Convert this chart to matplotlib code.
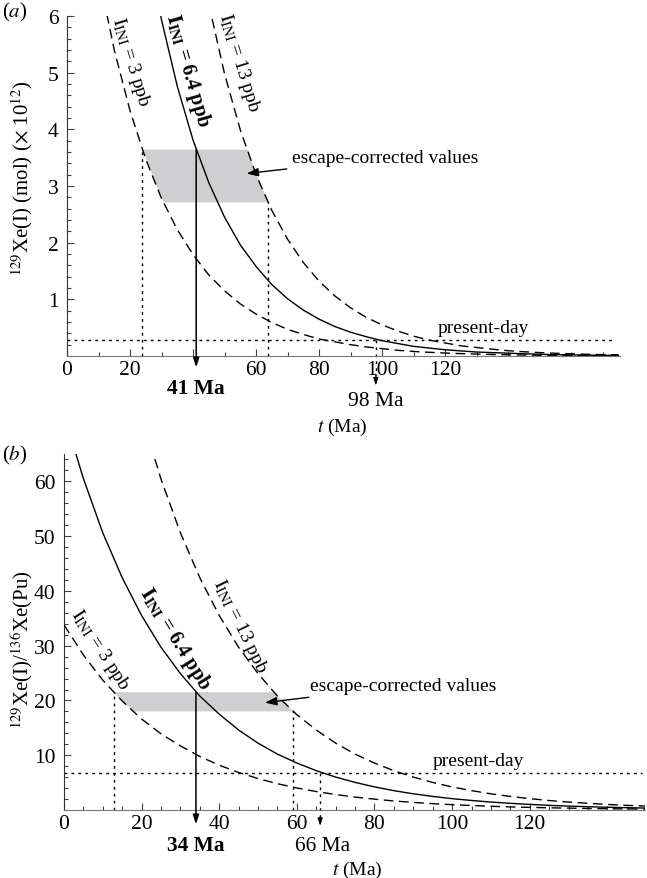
import numpy as np
import matplotlib
matplotlib.use("Agg")
import matplotlib.pyplot as plt
from matplotlib.ticker import MultipleLocator, FixedLocator

plt.rcParams['font.family'] = ['Liberation Serif', 'DejaVu Serif']
plt.rcParams['mathtext.fontset'] = 'stix'

# ---------------- data: panel (a) ----------------
a_t_3 = list(range(10, 180, 5))
a_v_3 = [6.74, 5.40, 4.33, 3.47, 2.78, 2.23, 1.79, 1.43, 1.15, 0.92, 0.74, 0.59,
         0.47, 0.38, 0.30, 0.25, 0.20, 0.16, 0.13, 0.10, 0.08, 0.065, 0.052, 0.042,
         0.034, 0.027, 0.021, 0.017, 0.014, 0.011, 0.009, 0.007, 0.006, 0.005]
a_t_64 = list(range(25, 180, 5))
a_v_64 = [7.40, 5.93, 4.76, 3.81, 3.06, 2.45, 1.96, 1.58, 1.26, 1.01, 0.81, 0.65,
          0.52, 0.42, 0.34, 0.27, 0.22, 0.17, 0.14, 0.11, 0.09, 0.07, 0.06, 0.05,
          0.04, 0.03, 0.024, 0.019, 0.015, 0.012, 0.010]
a_t_13 = list(range(45, 180, 5))
a_v_13 = [6.21, 4.98, 3.99, 3.20, 2.57, 2.06, 1.65, 1.32, 1.06, 0.85, 0.68, 0.55,
          0.44, 0.35, 0.28, 0.23, 0.18, 0.15, 0.12, 0.093, 0.075, 0.060, 0.048,
          0.039, 0.031, 0.025, 0.020]
a_band = [2.72, 3.65]          # escape-corrected values
a_present = 0.29               # present-day
a_age_best = 41
a_age_present = 98

# ---------------- data: panel (b) ----------------
b_t_3 = list(range(0, 155, 5))
b_v_3 = [33.8, 28.3, 23.7, 19.9, 16.6, 13.9, 11.7, 9.77, 8.18, 6.85, 5.74, 4.80,
         4.02, 3.37, 2.82, 2.36, 1.98, 1.65, 1.39, 1.16, 0.97, 0.82, 0.68, 0.57,
         0.48, 0.40, 0.34, 0.28, 0.23, 0.20, 0.17]
b_t_64 = list(range(0, 155, 5))
b_v_64 = [72.2, 60.5, 50.6, 42.4, 35.5, 29.7, 24.9, 20.8, 17.5, 14.6, 12.2, 10.2,
          8.58, 7.18, 6.01, 5.04, 4.22, 3.53, 2.96, 2.48, 2.07, 1.74, 1.45, 1.22,
          1.02, 0.85, 0.71, 0.60, 0.50, 0.42, 0.35]
b_t_13 = list(range(20, 155, 5))
b_v_13 = [72.1, 60.4, 50.6, 42.4, 35.5, 29.7, 24.9, 20.8, 17.4, 14.6, 12.2, 10.2,
          8.57, 7.17, 6.01, 5.03, 4.21, 3.54, 2.95, 2.48, 2.07, 1.73, 1.45, 1.22,
          1.01, 0.85, 0.72]
b_band = [18.1, 21.6]
b_present = 6.76
b_age_best = 34
b_age_present = 66

FS_TICK = 15.5
FS_TXT = 14
FS_LAB = 15

fig = plt.figure(figsize=(6.47, 8.79), dpi=100)
W, H = 647, 879


def add_axes(l, r, b, t):
    return fig.add_axes([l / W, 1 - b / H, (r - l) / W, (b - t) / H])


def inv(y, t, v):
    return float(np.interp(y, v[::-1], t[::-1]))


def style(ax, xmaj, xlabels, xminor, ymaj, yminor):
    for s in ('top', 'right'):
        ax.spines[s].set_visible(False)
    ax.spines['left'].set_color('#333333')
    ax.spines['bottom'].set_color('#777777')
    ax.xaxis.set_major_locator(FixedLocator(xmaj))
    ax.set_xticklabels(xlabels)
    ax.xaxis.set_minor_locator(MultipleLocator(xminor))
    ax.yaxis.set_major_locator(FixedLocator(ymaj))
    ax.yaxis.set_minor_locator(MultipleLocator(yminor))
    ax.tick_params(which='both', direction='in', colors='#444444', labelcolor='black',
                   labelsize=FS_TICK, width=0.8)
    ax.tick_params(which='major', length=5)
    ax.tick_params(which='minor', length=3)
    ax.tick_params(axis='x', pad=3)
    ax.tick_params(axis='y', pad=6)


def draw_panel(ax, c3, c64, c13, band, present, xmax):
    t3, v3 = np.array(c3[0]), np.array(c3[1])
    t64, v64 = np.array(c64[0]), np.array(c64[1])
    t13, v13 = np.array(c13[0]), np.array(c13[1])
    lo, hi = band
    ys = np.linspace(lo, hi, 30)
    xl = [inv(y, t3, v3) for y in ys]
    xr = [inv(y, t13, v13) for y in ys]
    ax.fill_betweenx(ys, xl, xr, color='#cfcfd1', lw=0, zorder=1)
    kw = dict(color='black', lw=1.0, zorder=3)
    ax.plot(t3, v3, dashes=(7, 4), **kw)
    ax.plot(t13, v13, dashes=(7, 4), **kw)
    ax.plot(t64, v64, **kw)
    dot = dict(color='black', lw=1.0, dashes=(2, 3), zorder=2)
    ax.plot([0, xmax], [present, present], **dot)
    x_left = inv(hi, t3, v3)
    x_right = inv(lo, t13, v13)
    ax.plot([x_left, x_left], [0, hi], **dot)
    ax.plot([x_right, x_right], [0, lo], **dot)


# ================= panel (a) =================
ax1 = add_axes(67, 620, 357, 17)
ax1.set_xlim(0, 175.5)
ax1.set_ylim(0, 6)
style(ax1, [0, 20, 40, 60, 80, 100, 120], ['0', '20', '', '60', '80', '100', '120'],
      10, [1, 2, 3, 4, 5, 6], 0.2)
draw_panel(ax1, (a_t_3, a_v_3), (a_t_64, a_v_64), (a_t_13, a_v_13),
           a_band, a_present, 173)

ax1.annotate('', xy=(a_age_best, -0.2), xytext=(a_age_best, a_band[1]),
             arrowprops=dict(arrowstyle='-|>,head_length=0.55,head_width=0.18',
                             color='black', lw=1.1, shrinkA=0, shrinkB=0),
             annotation_clip=False, zorder=4)
ax1.text(a_age_best, -0.56, '41 Ma', ha='center', va='center', fontsize=FS_TICK,
         fontweight='bold', clip_on=False)
ax1.plot([a_age_present, a_age_present], [a_present, -0.35], color='black', lw=1.0,
         dashes=(2, 3), clip_on=False, zorder=2)
ax1.annotate('', xy=(a_age_present, -0.52), xytext=(a_age_present, -0.32),
             arrowprops=dict(arrowstyle='-|>,head_length=0.45,head_width=0.15',
                             color='black', lw=0.8, shrinkA=0, shrinkB=0),
             annotation_clip=False)
ax1.text(a_age_present, -0.79, '98 Ma', ha='center', va='center', fontsize=FS_TICK,
         clip_on=False)
ax1.text(132, 0.5, 'present-day', ha='center', va='center', fontsize=FS_TXT)
ax1.annotate('escape-corrected values', xy=(57, 3.22), xytext=(71.5, 3.5),
             fontsize=FS_TXT, ha='left', va='center',
             arrowprops=dict(arrowstyle='-|>,head_length=0.5,head_width=0.18',
                             color='black', lw=1.0, shrinkA=2, shrinkB=0))
ax1.text(20.2, 5.2, r'$\mathrm{I}_{\mathrm{INI}}$ = 3 ppb', rotation=-73,
         ha='center', va='center', fontsize=FS_TXT, rotation_mode='anchor')
ax1.text(38.3, 5.05, r'$\mathbf{I}_{\mathbf{INI}}$ = 6.4 ppb', rotation=-74,
         ha='center', va='center', fontsize=FS_TXT + 0.5, fontweight='bold',
         rotation_mode='anchor')
ax1.text(54.5, 5.2, r'$\mathrm{I}_{\mathrm{INI}}$ = 13 ppb', rotation=-73,
         ha='center', va='center', fontsize=FS_TXT, rotation_mode='anchor')

fig.text(342 / W, 1 - 427 / H, r'$t$ (Ma)', ha='center', va='center', fontsize=FS_TXT)
fig.text(22 / W, 1 - 178 / H, r'$^{129}$Xe(I) (mol) ($\times$ 10$^{12}$)',
         rotation=90, ha='center', va='center', fontsize=FS_LAB)
fig.text(2 / W, 1 - 12 / H, r'($a$)', ha='left', va='center', fontsize=FS_LAB)

# ================= panel (b) =================
ax2 = add_axes(64, 645, 811, 455)
ax2.set_xlim(0, 149.7)
ax2.set_ylim(0, 65)
style(ax2, [0, 20, 40, 60, 80, 100, 120], ['0', '20', '40', '60', '80', '100', '120'],
      5, [10, 20, 30, 40, 50, 60], 2)
draw_panel(ax2, (b_t_3, b_v_3), (b_t_64, b_v_64), (b_t_13, b_v_13),
           b_band, b_present, 149)

ax2.annotate('', xy=(b_age_best, -2.6), xytext=(b_age_best, b_band[1]),
             arrowprops=dict(arrowstyle='-|>,head_length=0.55,head_width=0.18',
                             color='black', lw=1.1, shrinkA=0, shrinkB=0),
             annotation_clip=False, zorder=4)
ax2.text(b_age_best, -6.4, '34 Ma', ha='center', va='center', fontsize=FS_TICK,
         fontweight='bold', clip_on=False)
ax2.plot([b_age_present, b_age_present], [b_present, -1.3], color='black', lw=1.0,
         dashes=(2, 3), clip_on=False, zorder=2)
ax2.annotate('', xy=(b_age_present, -2.9), xytext=(b_age_present, -1.2),
             arrowprops=dict(arrowstyle='-|>,head_length=0.45,head_width=0.15',
                             color='black', lw=0.8, shrinkA=0, shrinkB=0),
             annotation_clip=False)
ax2.text(b_age_present + 0.5, -6.5, '66 Ma', ha='center', va='center', fontsize=FS_TICK,
         clip_on=False)
ax2.text(106.7, 9.0, 'present-day', ha='center', va='center', fontsize=FS_TXT)
ax2.annotate('escape-corrected values', xy=(51.8, 19.6), xytext=(63.5, 22.7),
             fontsize=FS_TXT, ha='left', va='center',
             arrowprops=dict(arrowstyle='-|>,head_length=0.5,head_width=0.18',
                             color='black', lw=1.0, shrinkA=2, shrinkB=0))
ax2.text(9.3, 29.4, r'$\mathrm{I}_{\mathrm{INI}}$ = 3 ppb', rotation=-57,
         ha='center', va='center', fontsize=FS_TXT, rotation_mode='anchor')
ax2.text(28.6, 31.3, r'$\mathbf{I}_{\mathbf{INI}}$ = 6.4 ppb', rotation=-58,
         ha='center', va='center', fontsize=FS_TXT + 0.5, fontweight='bold',
         rotation_mode='anchor')
ax2.text(45.3, 33.8, r'$\mathrm{I}_{\mathrm{INI}}$ = 13 ppb', rotation=-64,
         ha='center', va='center', fontsize=FS_TXT, rotation_mode='anchor')

fig.text(357 / W, 1 - 870 / H, r'$t$ (Ma)', ha='center', va='center', fontsize=FS_TXT)
fig.text(22 / W, 1 - 650 / H, r'$^{129}$Xe(I)/$^{136}$Xe(Pu)',
         rotation=90, ha='center', va='center', fontsize=FS_LAB)
fig.text(2 / W, 1 - 455 / H, r'($b$)', ha='left', va='center', fontsize=FS_LAB)

fig.savefig('out.png', dpi=100)
